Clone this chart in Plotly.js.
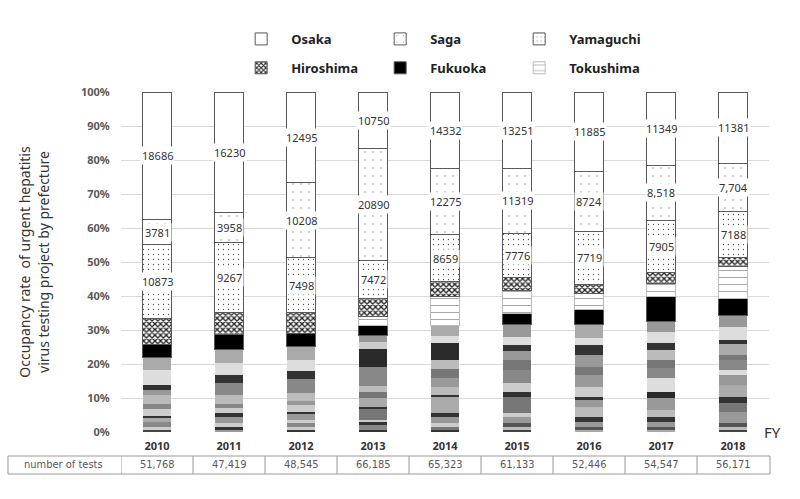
<!DOCTYPE html>
<html>
<head>
<meta charset="utf-8">
<script src="https://cdn.plot.ly/plotly-3.0.1.min.js"></script>
<style>
  body { margin: 0; background: #fff; }
  #plot { width: 800px; height: 499px; }
</style>
</head>
<body>
<div id="plot"></div>
<script>
// fiscal years
var years = ['2010', '2011', '2012', '2013', '2014', '2015', '2016', '2017', '2018'];

// share of each prefecture in the bar (%)
var osaka     = [37.6, 35.6, 26.8, 16.5, 22.6, 22.4, 23.5, 21.5, 20.9];
var saga      = [7.4, 8.8, 22.1, 33.2, 19.4, 19.1, 17.4, 16.2, 14.1];
var yamaguchi = [21.8, 20.6, 16.2, 11.2, 13.8, 13.2, 15.6, 15.3, 13.5];
var hiroshima = [7.6, 6.5, 6.2, 5.3, 4.4, 3.8, 2.9, 3.5, 2.6];
var tokushima = [0, 0, 0, 2.6, 8.5, 6.5, 4.7, 3.8, 9.4];
var fukuoka   = [3.8, 4.4, 3.8, 2.9, 0, 3.5, 4.4, 7.4, 5.0];

// the other prefectures (grey bands), bottom to top, one list per year
var otherShares = [
  [0.6, 0.9, 1.5, 1.2, 0.6, 2.1, 1.2, 2.9, 1.5, 1.2, 4.7, 3.5],
  [0.6, 0.9, 1.2, 1.8, 1.2, 1.5, 0.9, 2.9, 3.5, 2.4, 3.5, 3.8],
  [0.6, 0.9, 1.2, 0.9, 1.8, 0.6, 2.1, 0.9, 2.6, 4.1, 2.4, 3.2, 3.8],
  [0.6, 1.5, 0.9, 0.6, 3.2, 0.6, 2.6, 1.8, 1.8, 5.6, 5.3, 2.1, 1.8],
  [0.6, 0.9, 1.2, 1.8, 1.2, 4.7, 0.6, 2.1, 2.9, 2.4, 2.9, 5.0, 1.8, 3.2],
  [0.6, 0.9, 1.2, 1.8, 1.2, 4.7, 1.5, 2.6, 3.8, 2.9, 2.6, 1.8, 2.4, 3.5],
  [0.6, 0.9, 1.5, 1.5, 2.9, 2.1, 0.9, 2.9, 3.5, 2.4, 3.5, 2.9, 2.1, 3.8],
  [0.6, 0.9, 1.5, 1.5, 2.1, 3.5, 1.8, 4.1, 2.9, 2.4, 2.9, 2.1, 3.2, 2.9],
  [0.6, 0.9, 1.2, 3.2, 2.6, 1.8, 3.5, 2.9, 1.5, 2.9, 1.5, 3.2, 1.2, 3.8, 3.5]
];

// labels printed on the bars
var osakaLabels     = ['18686', '16230', '12495', '10750', '14332', '13251', '11885', '11349', '11381'];
var sagaLabels      = ['3781', '3958', '10208', '20890', '12275', '11319', '8724', '8,518', '7,704'];
var yamaguchiLabels = ['10873', '9267', '7498', '7472', '8659', '7776', '7719', '7905', '7188'];

// table row under the chart
var testsLabel = 'number of tests';
var numberOfTests = ['51,768', '47,419', '48,545', '66,185', '65,323', '61,133', '52,446', '54,547', '56,171'];

// grey shade of each band (style only), same layout as otherShares
var bandShades = [
  ['#444', '#ccc', '#888', '#aaa', '#333', '#ccc', '#888', '#bbb', '#999', '#333', '#ddd', '#aaa'],
  ['#999', '#333', '#ccc', '#999', '#333', '#ccc', '#888', '#bbb', '#888', '#333', '#ddd', '#aaa'],
  ['#333', '#ccc', '#888', '#ccc', '#999', '#333', '#ccc', '#999', '#bbb', '#888', '#333', '#ddd', '#aaa'],
  ['#333', '#888', '#333', '#ccc', '#777', '#333', '#aaa', '#777', '#bbb', '#888', '#2a2a2a', '#ccc', '#999'],
  ['#333', '#777', '#ccc', '#999', '#333', '#aaa', '#333', '#bbb', '#999', '#777', '#bbb', '#2b2b2b', '#ddd', '#aaa'],
  ['#444', '#bbb', '#555', '#999', '#ccc', '#777', '#333', '#ccc', '#888', '#777', '#999', '#333', '#ddd', '#999'],
  ['#aaa', '#555', '#999', '#333', '#bbb', '#999', '#333', '#ccc', '#999', '#777', '#999', '#333', '#ddd', '#aaa'],
  ['#aaa', '#555', '#999', '#333', '#bbb', '#999', '#2a2a2a', '#ddd', '#888', '#777', '#bbb', '#333', '#ddd', '#999'],
  ['#444', '#bbb', '#555', '#999', '#777', '#333', '#aaa', '#999', '#ddd', '#888', '#777', '#aaa', '#333', '#ddd', '#999']
];

var edge = { color: '#595959', width: 1 };
var data = [];

// grey bands first so they sit at the bottom of the stack
var nBands = Math.max.apply(null, otherShares.map(function (b) { return b.length; }));
for (var k = 0; k < nBands; k++) {
  data.push({
    type: 'bar',
    x: years,
    y: years.map(function (_, i) { return otherShares[i][k] || 0; }),
    marker: {
      color: years.map(function (_, i) { return bandShades[i][k] || '#fff'; }),
      line: { width: 0 }
    },
    showlegend: false,
    hoverinfo: 'skip'
  });
}

data.push({
  type: 'bar', name: 'Fukuoka', x: years, y: fukuoka,
  marker: { color: '#000', line: edge },
  legend: 'legend2', legendrank: 2
});
data.push({
  type: 'bar', name: 'Tokushima', x: years, y: tokushima,
  marker: { color: '#fff', line: { color: '#bbb', width: 1 },
    pattern: { shape: '-', fgcolor: '#999', bgcolor: '#fff', size: 7, solidity: 0.12 } },
  legend: 'legend2', legendrank: 3
});
data.push({
  type: 'bar', name: 'Hiroshima', x: years, y: hiroshima,
  marker: { color: '#fff', line: edge,
    pattern: { shape: 'x', fgcolor: '#222', bgcolor: '#fff', size: 4, solidity: 0.55 } },
  legend: 'legend2', legendrank: 1
});
data.push({
  type: 'bar', name: 'Yamaguchi', x: years, y: yamaguchi,
  marker: { color: '#fff', line: edge,
    pattern: { shape: '.', fgcolor: '#555', bgcolor: '#fff', size: 5, solidity: 0.05 } },
  legend: 'legend', legendrank: 3
});
data.push({
  type: 'bar', name: 'Saga', x: years, y: saga,
  marker: { color: '#fff', line: edge,
    pattern: { shape: '.', fgcolor: '#777', bgcolor: '#fff', size: 8, solidity: 0.02 } },
  legend: 'legend', legendrank: 2
});
data.push({
  type: 'bar', name: 'Osaka', x: years, y: osaka,
  marker: { color: '#fff', line: edge },
  legend: 'legend', legendrank: 1
});

// label positions = middle of each labelled segment, in percent of the bar
var tableFont = { size: 11, color: '#595959', family: 'Liberation Sans Narrow, DejaVu Sans Condensed, sans-serif' };
var annotations = [];
years.forEach(function (yr, i) {
  var others = otherShares[i].reduce(function (a, b) { return a + b; }, 0);
  var total = others + fukuoka[i] + tokushima[i] + hiroshima[i] + yamaguchi[i] + saga[i] + osaka[i];
  var base = others + fukuoka[i] + tokushima[i] + hiroshima[i];
  var segs = [
    [yamaguchi[i], yamaguchiLabels[i]],
    [saga[i], sagaLabels[i]],
    [osaka[i], osakaLabels[i]]
  ];
  segs.forEach(function (s) {
    annotations.push({
      x: i, y: (base + s[0] / 2) / total * 100, xref: 'x', yref: 'y',
      xanchor: 'center', yanchor: 'middle',
      text: s[1], showarrow: false, bgcolor: '#fff', borderpad: 1,
      font: { size: 11, color: '#333' }
    });
    base += s[0];
  });
  annotations.push({
    x: i, y: -0.097, xref: 'x', yref: 'paper', xanchor: 'center', yanchor: 'middle',
    text: numberOfTests[i], showarrow: false, font: tableFont
  });
});
annotations.push({
  x: -0.0895, y: -0.097, xref: 'paper', yref: 'paper', xanchor: 'center', yanchor: 'middle',
  text: testsLabel, showarrow: false, font: tableFont
});
annotations.push({
  x: 1.006, y: 0, xref: 'paper', yref: 'paper', text: 'FY', xanchor: 'center', yanchor: 'middle',
  showarrow: false, font: { size: 15, color: '#333' }
});

// table grid
var tblTop = -0.0706, tblBot = -0.1235;
var shapes = [
  { type: 'rect', xref: 'paper', yref: 'paper', x0: -0.1744, x1: 1.0015, y0: tblBot, y1: tblTop,
    line: { color: '#999', width: 1 } }
];
years.forEach(function (_, i) {
  shapes.push({ type: 'line', xref: 'x', yref: 'paper', x0: i - 0.5, x1: i - 0.5, y0: tblBot, y1: tblTop,
    line: { color: '#999', width: 1 } });
});

var legendFont = { size: 13, color: '#222', weight: 'bold' };
var layout = {
  width: 800, height: 499,
  margin: { l: 121, r: 31, t: 92, b: 67 },
  paper_bgcolor: '#fff', plot_bgcolor: '#fff',
  barmode: 'stack', barnorm: 'percent', bargap: 0.61,
  font: { family: 'Noto Sans, sans-serif' },
  xaxis: {
    type: 'category', range: [-0.5, years.length - 0.5], autorange: false,
    showgrid: false, showline: false, zeroline: false,
    ticks: 'outside', ticklen: 4, tickcolor: 'rgba(0,0,0,0)',
    tickfont: { size: 11, color: '#333', weight: 'bold' }
  },
  yaxis: {
    range: [0, 100], autorange: false, dtick: 10, ticksuffix: '%',
    gridcolor: '#d9d9d9', zeroline: false, showline: false,
    ticks: 'outside', ticklen: 8, tickcolor: 'rgba(0,0,0,0)',
    tickfont: { size: 11, color: '#595959', weight: 'bold' },
    title: { text: 'Occupancy rate  of urgent hepatitis<br>virus testing project by prefecture',
      font: { size: 14, color: '#333' }, standoff: 28 }
  },
  legend: {
    orientation: 'h', x: 0.17, xanchor: 'left', y: 1.156, yanchor: 'middle',
    itemwidth: 50, entrywidth: 74, font: legendFont, traceorder: 'normal'
  },
  legend2: {
    orientation: 'h', x: 0.17, xanchor: 'left', y: 1.071, yanchor: 'middle',
    itemwidth: 50, entrywidth: 74, font: legendFont, traceorder: 'normal'
  },
  annotations: annotations,
  shapes: shapes
};

Plotly.newPlot('plot', data, layout, { displayModeBar: false, staticPlot: true });
</script>
</body>
</html>
